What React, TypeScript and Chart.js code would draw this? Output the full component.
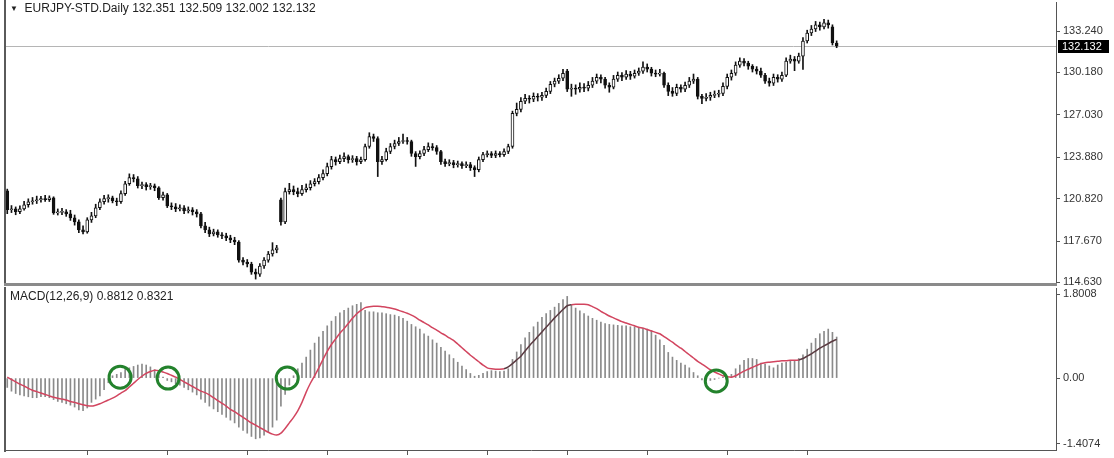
import React, { useEffect, useRef } from "react";
import { Chart, registerables } from "chart.js";

Chart.register(...registerables);

// ---------- data ----------
const OPEN = [
  121.40, 119.99, 120.06, 119.84, 120.06, 120.36, 120.58, 120.66, 120.73, 120.81,
  120.74, 120.88, 119.76, 119.80, 119.84, 119.69, 119.39, 119.09, 118.50, 118.35,
  119.24, 119.54, 120.14, 120.58, 120.81, 120.88, 120.66, 120.58, 121.18, 121.92,
  122.37, 122.29, 121.77, 121.85, 121.70, 121.77, 121.62, 120.88, 121.10, 120.28,
  120.21, 120.06, 120.14, 119.91, 119.99, 119.84, 119.69, 118.80, 118.50, 118.20,
  118.35, 118.12, 118.05, 117.90, 117.75, 117.60, 116.26, 116.11, 115.97, 115.37,
  115.22, 115.82, 116.26, 116.71, 117.01, 120.73, 119.09, 121.33, 121.48, 121.33,
  121.18, 121.48, 121.62, 121.92, 122.07, 122.37, 122.67, 123.19, 123.71, 123.56,
  123.78, 123.93, 123.71, 123.78, 123.56, 123.71, 124.68, 125.42, 125.27, 123.56,
  123.71, 124.31, 124.68, 124.90, 125.05, 125.12, 125.05, 124.16, 123.93, 124.16,
  124.45, 124.68, 124.60, 124.31, 123.56, 123.41, 123.49, 123.34, 123.41, 123.26,
  123.34, 123.11, 122.96, 123.71, 124.08, 124.16, 124.01, 124.16, 124.08, 124.31,
  124.68, 127.13, 127.43, 128.03, 128.25, 128.18, 128.40, 128.33, 128.47, 128.77,
  129.29, 129.52, 129.74, 130.26, 128.92, 129.00, 128.92, 129.07, 129.00, 129.22,
  129.52, 129.81, 129.67, 129.22, 129.07, 129.67, 129.96, 129.81, 130.04, 129.89,
  130.11, 130.26, 130.56, 130.41, 130.11, 130.04, 130.11, 129.22, 128.77, 128.62,
  129.07, 128.92, 129.22, 129.52, 129.67, 128.40, 128.25, 128.33, 128.47, 128.55,
  128.62, 129.14, 129.81, 130.11, 130.71, 131.01, 130.86, 130.63, 130.41, 130.26,
  129.96, 129.52, 129.37, 129.81, 129.67, 129.96, 131.01, 131.16, 131.01, 131.38,
  132.50, 133.09, 133.39, 133.69, 133.54, 133.84, 133.55, 132.351,
];

const HIGH = [
  121.52, 120.30, 120.20, 120.28, 120.62, 120.80, 120.90, 121.00, 120.98, 121.05,
  121.02, 120.95, 120.05, 120.10, 120.00, 119.95, 119.60, 119.25, 118.80, 119.40,
  119.80, 120.40, 120.80, 121.05, 121.10, 121.00, 120.85, 121.40, 122.10, 122.65,
  122.60, 122.45, 122.05, 122.00, 121.95, 121.90, 121.70, 121.30, 121.20, 120.50,
  120.45, 120.35, 120.30, 120.20, 120.15, 120.00, 119.80, 119.05, 118.70, 118.55,
  118.50, 118.30, 118.25, 118.10, 117.95, 117.70, 116.45, 116.30, 116.10, 115.60,
  116.00, 116.45, 116.90, 117.55, 117.35, 120.85, 121.60, 121.95, 121.75, 121.60,
  121.80, 121.90, 122.15, 122.30, 122.60, 122.95, 123.45, 123.95, 123.90, 124.05,
  124.20, 124.05, 124.00, 123.95, 123.90, 124.85, 125.70, 125.60, 125.40, 123.95,
  124.55, 124.90, 125.15, 125.35, 125.60, 125.35, 125.15, 124.30, 124.35, 124.70,
  124.95, 124.90, 124.75, 124.40, 123.75, 123.70, 123.65, 123.60, 123.55, 123.55,
  123.50, 123.25, 123.90, 124.25, 124.35, 124.30, 124.35, 124.30, 124.50, 124.85,
  127.30, 127.90, 128.30, 128.55, 128.45, 128.65, 128.60, 128.70, 129.00, 129.50,
  129.75, 130.00, 130.40, 130.40, 129.30, 129.25, 129.40, 129.35, 129.50, 129.80,
  130.05, 130.00, 129.80, 129.40, 129.95, 130.20, 130.15, 130.30, 130.25, 130.35,
  130.50, 130.95, 130.80, 130.55, 130.35, 130.40, 130.20, 129.40, 129.05, 129.30,
  129.25, 129.45, 129.80, 130.05, 129.80, 128.55, 128.60, 128.70, 128.80, 128.85,
  129.40, 130.05, 130.35, 130.95, 131.25, 131.20, 131.00, 130.75, 130.60, 130.50,
  130.10, 129.75, 130.05, 130.00, 130.20, 131.25, 131.45, 131.35, 131.60, 132.75,
  133.30, 133.65, 133.95, 133.90, 134.10, 134.05, 133.70, 132.509,
];

const LOW = [
  119.70, 119.78, 119.62, 119.70, 119.95, 120.18, 120.40, 120.45, 120.55, 120.60,
  120.60, 119.65, 119.60, 119.62, 119.50, 119.20, 118.85, 118.30, 118.20, 118.25,
  119.05, 119.40, 120.00, 120.40, 120.55, 120.50, 120.30, 120.45, 121.05, 121.80,
  122.05, 121.60, 121.55, 121.45, 121.50, 121.40, 120.75, 120.70, 120.15, 120.00,
  119.85, 119.90, 119.70, 119.75, 119.60, 119.45, 118.65, 118.30, 118.00, 118.05,
  117.95, 117.85, 117.70, 117.55, 117.40, 116.10, 115.90, 115.75, 115.20, 114.85,
  115.05, 115.65, 116.10, 116.55, 116.80, 118.85, 118.95, 121.15, 121.10, 120.95,
  121.05, 121.30, 121.45, 121.75, 121.90, 122.20, 122.50, 123.00, 123.30, 123.40,
  123.55, 123.45, 123.50, 123.30, 123.40, 123.60, 124.55, 125.05, 122.45, 123.35,
  123.60, 124.15, 124.50, 124.75, 124.90, 124.85, 123.95, 123.20, 123.75, 124.00,
  124.30, 124.40, 124.10, 123.35, 123.20, 123.25, 123.10, 123.15, 123.05, 123.10,
  122.90, 122.45, 122.80, 123.55, 123.90, 123.85, 123.85, 123.90, 123.95, 124.15,
  124.55, 126.95, 127.25, 127.85, 127.90, 128.00, 128.05, 128.10, 128.30, 128.60,
  129.10, 129.35, 129.55, 128.75, 128.40, 128.55, 128.70, 128.75, 128.80, 129.05,
  129.35, 129.40, 129.00, 128.70, 128.95, 129.50, 129.55, 129.65, 129.65, 129.75,
  129.95, 130.10, 130.20, 129.90, 129.85, 129.90, 129.05, 128.45, 128.40, 128.45,
  128.70, 128.75, 129.05, 129.35, 128.20, 127.85, 128.05, 128.10, 128.30, 128.35,
  128.45, 128.95, 129.60, 129.95, 130.55, 130.65, 130.40, 130.20, 130.05, 129.80,
  129.35, 129.15, 129.20, 129.45, 129.50, 129.85, 130.85, 130.30, 130.85, 130.40,
  132.35, 132.90, 133.20, 133.30, 133.40, 133.45, 132.20, 132.002,
];

const CLOSE = [
  119.99, 120.06, 119.84, 120.06, 120.36, 120.58, 120.66, 120.73, 120.81, 120.74,
  120.88, 119.76, 119.80, 119.84, 119.69, 119.39, 119.09, 118.50, 118.35, 119.24,
  119.54, 120.14, 120.58, 120.81, 120.88, 120.66, 120.58, 121.18, 121.92, 122.37,
  122.29, 121.77, 121.85, 121.70, 121.77, 121.62, 120.88, 121.10, 120.28, 120.21,
  120.06, 120.14, 119.91, 119.99, 119.84, 119.69, 118.80, 118.50, 118.20, 118.35,
  118.12, 118.05, 117.90, 117.75, 117.60, 116.26, 116.11, 115.97, 115.37, 115.22,
  115.82, 116.26, 116.71, 117.01, 117.16, 119.09, 121.33, 121.48, 121.33, 121.18,
  121.48, 121.62, 121.92, 122.07, 122.37, 122.67, 123.19, 123.71, 123.56, 123.78,
  123.93, 123.71, 123.78, 123.56, 123.71, 124.68, 125.42, 125.27, 123.56, 123.71,
  124.31, 124.68, 124.90, 125.05, 125.12, 125.05, 124.16, 123.93, 124.16, 124.45,
  124.68, 124.60, 124.31, 123.56, 123.41, 123.49, 123.34, 123.41, 123.26, 123.34,
  123.11, 122.96, 123.71, 124.08, 124.16, 124.01, 124.16, 124.08, 124.31, 124.68,
  127.13, 127.43, 128.03, 128.25, 128.18, 128.40, 128.33, 128.47, 128.77, 129.29,
  129.52, 129.74, 130.11, 128.92, 129.00, 128.92, 129.07, 129.00, 129.22, 129.52,
  129.81, 129.67, 129.22, 129.07, 129.67, 129.96, 129.81, 130.04, 129.89, 130.11,
  130.26, 130.56, 130.41, 130.11, 130.04, 130.11, 129.22, 128.77, 128.62, 129.07,
  128.92, 129.22, 129.52, 129.67, 128.40, 128.25, 128.33, 128.47, 128.55, 128.62,
  129.14, 129.81, 130.11, 130.71, 131.01, 130.86, 130.63, 130.41, 130.26, 129.96,
  129.52, 129.37, 129.81, 129.67, 129.96, 131.01, 131.16, 131.01, 131.38, 132.50,
  133.09, 133.39, 133.69, 133.54, 133.84, 133.69, 132.35, 132.132,
];

const MACD_HIST = [
  -0.20, -0.28, -0.33, -0.36, -0.38, -0.40, -0.42, -0.42, -0.40, -0.40,
  -0.42, -0.46, -0.50, -0.52, -0.55, -0.58, -0.62, -0.68, -0.70, -0.64,
  -0.52, -0.45, -0.38, -0.25, -0.10, 0.05, 0.08, 0.12, 0.18, 0.22,
  0.25, 0.28, 0.30, 0.28, 0.24, 0.18, 0.08, 0.02, -0.05, -0.08,
  -0.12, -0.15, -0.20, -0.25, -0.30, -0.36, -0.45, -0.52, -0.60, -0.66,
  -0.72, -0.78, -0.84, -0.90, -0.96, -1.05, -1.12, -1.18, -1.25, -1.30,
  -1.28, -1.22, -1.15, -1.05, -0.90, -0.60, -0.35, -0.15, 0.05, 0.20,
  0.32, 0.45, 0.60, 0.75, 0.88, 1.00, 1.12, 1.22, 1.32, 1.40,
  1.45, 1.50, 1.55, 1.58, 1.62, 1.45, 1.42, 1.42, 1.40, 1.40,
  1.38, 1.36, 1.35, 1.32, 1.28, 1.22, 1.15, 1.10, 1.05, 0.95,
  0.90, 0.82, 0.75, 0.66, 0.58, 0.50, 0.42, 0.34, 0.26, 0.18,
  0.10, 0.04, 0.06, 0.10, 0.14, 0.16, 0.15, 0.14, 0.15, 0.20,
  0.40, 0.56, 0.72, 0.86, 0.98, 1.10, 1.20, 1.30, 1.38, 1.45,
  1.52, 1.60, 1.68, 1.75, 1.58, 1.50, 1.44, 1.38, 1.33, 1.28,
  1.24, 1.20, 1.17, 1.15, 1.14, 1.13, 1.12, 1.12, 1.10, 1.10,
  1.08, 1.07, 1.05, 1.02, 0.92, 0.82, 0.70, 0.55, 0.45, 0.38,
  0.32, 0.28, 0.22, 0.12, 0.05, -0.04, -0.06, -0.05, -0.03, 0.00,
  0.02, 0.04, 0.08, 0.20, 0.28, 0.38, 0.42, 0.42, 0.40, 0.32,
  0.30, 0.26, 0.22, 0.28, 0.32, 0.34, 0.36, 0.38, 0.42, 0.50,
  0.62, 0.75, 0.85, 0.95, 1.00, 1.05, 0.98, 0.88,
];

const MACD_SIGNAL = [
  0.02, -0.03, -0.08, -0.13, -0.17, -0.22, -0.26, -0.29, -0.32, -0.35,
  -0.38, -0.41, -0.43, -0.45, -0.47, -0.50, -0.52, -0.55, -0.57, -0.59,
  -0.60, -0.58, -0.55, -0.51, -0.47, -0.43, -0.38, -0.32, -0.27, -0.19,
  -0.11, -0.03, 0.04, 0.10, 0.14, 0.17, 0.16, 0.13, 0.10, 0.06,
  0.02, -0.03, -0.08, -0.13, -0.18, -0.23, -0.28, -0.31, -0.36, -0.42,
  -0.48, -0.54, -0.60, -0.67, -0.72, -0.78, -0.84, -0.90, -0.96, -1.01,
  -1.06, -1.11, -1.16, -1.20, -1.22, -1.18, -1.08, -0.96, -0.84, -0.70,
  -0.52, -0.30, -0.11, 0.05, 0.22, 0.40, 0.57, 0.72, 0.84, 0.96,
  1.06, 1.17, 1.28, 1.38, 1.45, 1.51, 1.53, 1.54, 1.54, 1.53,
  1.52, 1.50, 1.48, 1.45, 1.42, 1.39, 1.35, 1.30, 1.24, 1.19,
  1.14, 1.08, 1.03, 0.97, 0.92, 0.86, 0.81, 0.73, 0.65, 0.57,
  0.49, 0.42, 0.35, 0.28, 0.22, 0.20, 0.19, 0.19, 0.20, 0.24,
  0.31, 0.39, 0.47, 0.58, 0.69, 0.79, 0.89, 0.99, 1.09, 1.19,
  1.29, 1.38, 1.47, 1.55, 1.57, 1.58, 1.58, 1.58, 1.57, 1.53,
  1.49, 1.43, 1.38, 1.33, 1.29, 1.25, 1.21, 1.18, 1.15, 1.12,
  1.09, 1.07, 1.04, 1.01, 0.98, 0.95, 0.89, 0.83, 0.77, 0.70,
  0.64, 0.57, 0.50, 0.43, 0.36, 0.30, 0.24, 0.18, 0.13, 0.09,
  0.05, 0.03, 0.02, 0.05, 0.10, 0.15, 0.19, 0.23, 0.27, 0.31,
  0.33, 0.34, 0.35, 0.36, 0.37, 0.37, 0.38, 0.38, 0.39, 0.42,
  0.47, 0.52, 0.58, 0.64, 0.69, 0.74, 0.79, 0.83,
];

// highlighted crossings (bar position, MACD value)
const CROSS_X = [26.8, 38.2, 66.5, 168.4];
const CROSS_Y = [0.02, 0.0, 0.0, -0.06];

const PRICE_TICKS = [114.63, 117.67, 120.82, 123.88, 127.03, 130.18, 133.24];
const PRICE_TICK_LABELS = ["114.630", "117.670", "120.820", "123.880", "127.030", "130.180", "133.240"];
const MACD_TICKS = [-1.4074, 0, 1.8008];
const MACD_TICK_LABELS = ["-1.4074", "0.00", "1.8008"];
const TIME_TICKS = [19, 38, 57, 76, 95, 114, 133, 152, 171, 190];

const CURRENT_PRICE = 132.132;
const CURRENT_PRICE_LABEL = "132.132";
const TITLE_TEXT = "EURJPY-STD.Daily 132.351 132.509 132.002 132.132";
const MACD_TEXT = "MACD(12,26,9) 0.8812 0.8321";

const PRICE_MIN = 114.56;
const PRICE_MAX = 135.39;
const MACD_MIN = -1.54;
const MACD_MAX = 1.93;
const X_MIN = -0.3;
const X_MAX = 249.1;

// ---------- styles ----------
const W = 1114;
const TOP_H = 287;
const BOT_H = 171;
const AXIS_W = 58;
const FONT = "'Liberation Sans', Arial, sans-serif";
const AXIS_COLOR = "#555";
const RED = "#d2455f";
const DARK_LINE = "#5b3b42";

const fitRightAxis = (s: any) => {
  s.width = AXIS_W;
  s.paddingTop = 0;
  s.paddingBottom = 0;
};

const leftBorderPlugin = {
  id: "leftBorder",
  afterDraw(chart: any) {
    const { ctx, chartArea: a } = chart;
    ctx.save();
    ctx.strokeStyle = "#5a5a5a";
    ctx.lineWidth = 2;
    ctx.beginPath();
    ctx.moveTo(a.left - 1, 0);
    ctx.lineTo(a.left - 1, a.bottom + 2);
    ctx.stroke();
    ctx.restore();
  },
};

const priceDecorPlugin = {
  id: "priceDecor",
  beforeDatasetsDraw(chart: any) {
    const { ctx, chartArea: a } = chart;
    const y = Math.round(chart.scales.y.getPixelForValue(CURRENT_PRICE)) + 0.5;
    ctx.save();
    ctx.strokeStyle = "#b5b5b5";
    ctx.lineWidth = 1;
    ctx.beginPath();
    ctx.moveTo(a.left, y);
    ctx.lineTo(a.right, y);
    ctx.stroke();
    ctx.restore();
  },
  afterDraw(chart: any) {
    const { ctx, chartArea: a } = chart;
    const y = Math.round(chart.scales.y.getPixelForValue(CURRENT_PRICE));
    ctx.save();
    // separator under the price panel
    ctx.fillStyle = "#8a8a8a";
    ctx.fillRect(a.left - 2, a.bottom, a.right - a.left + 3, 3);
    // current price box
    ctx.fillStyle = "#000";
    ctx.fillRect(a.right + 2, y - 6, 51, 13);
    ctx.fillStyle = "#fff";
    ctx.font = `11px ${FONT}`;
    ctx.textBaseline = "middle";
    ctx.textAlign = "left";
    ctx.fillText(CURRENT_PRICE_LABEL, a.right + 6, y + 1);
    ctx.restore();
  },
};

export default function App() {
  const topRef = useRef<HTMLCanvasElement | null>(null);
  const botRef = useRef<HTMLCanvasElement | null>(null);

  useEffect(() => {
    const idx = OPEN.map((_, i) => i);
    const bodies = idx.map((i) => ({ x: i, y: [OPEN[i], CLOSE[i]] }));
    const wicks = idx.map((i) => ({ x: i, y: [LOW[i], HIGH[i]] }));

    const top = new Chart(topRef.current as HTMLCanvasElement, {
      type: "bar",
      data: {
        datasets: [
          {
            label: "wick",
            data: wicks as any,
            backgroundColor: "#111",
            barThickness: 1,
            grouped: false,
            order: 2,
          } as any,
          {
            label: "body",
            data: bodies as any,
            backgroundColor: (c: any) =>
              CLOSE[c.dataIndex] >= OPEN[c.dataIndex] ? "#ffffff" : "#111111",
            borderColor: "#111",
            borderWidth: 1,
            borderSkipped: false,
            barThickness: 3,
            minBarLength: 1,
            grouped: false,
            order: 1,
          } as any,
        ],
      },
      options: {
        animation: false,
        responsive: false,
        maintainAspectRatio: false,
        devicePixelRatio: 1,
        layout: { autoPadding: false, padding: { left: 6, top: 2, right: 0, bottom: 4 } },
        plugins: { legend: { display: false }, tooltip: { enabled: false } },
        scales: {
          x: { type: "linear", min: X_MIN, max: X_MAX, offset: false, display: false },
          y: {
            position: "right",
            min: PRICE_MIN,
            max: PRICE_MAX,
            afterBuildTicks: (s: any) => {
              s.ticks = PRICE_TICKS.map((v) => ({ value: v }));
            },
            afterFit: fitRightAxis,
            ticks: {
              callback: (_v: any, i: number) => PRICE_TICK_LABELS[i],
              font: { family: FONT, size: 11 },
              color: "#333",
              padding: 3,
              autoSkip: false,
            },
            grid: { drawOnChartArea: false, tickLength: 4, color: AXIS_COLOR },
            border: { display: true, color: AXIS_COLOR, width: 1 },
          },
        },
      } as any,
      plugins: [leftBorderPlugin, priceDecorPlugin],
    });

    const hist = idx.map((i) => ({ x: i, y: MACD_HIST[i] }));
    const signal = idx.map((i) => ({ x: i, y: MACD_SIGNAL[i] }));
    const crosses = CROSS_X.map((x, k) => ({ x, y: CROSS_Y[k] }));

    const bot = new Chart(botRef.current as HTMLCanvasElement, {
      type: "bar",
      data: {
        datasets: [
          {
            type: "line",
            label: "crossings",
            data: crosses,
            showLine: false,
            pointRadius: 11,
            pointBorderWidth: 3,
            pointBorderColor: "#23822c",
            pointBackgroundColor: "rgba(0,0,0,0)",
            order: 0,
          } as any,
          {
            type: "line",
            label: "signal",
            data: signal,
            borderColor: RED,
            borderWidth: 1.5,
            pointRadius: 0,
            tension: 0.2,
            segment: {
              borderColor: (c: any) =>
                (c.p0DataIndex >= 118 && c.p0DataIndex < 134) || c.p0DataIndex >= 188
                  ? DARK_LINE
                  : RED,
            },
            order: 1,
          } as any,
          {
            type: "bar",
            label: "histogram",
            data: hist,
            backgroundColor: "#8a8a8a",
            barThickness: 1,
            grouped: false,
            order: 2,
          } as any,
        ],
      },
      options: {
        animation: false,
        responsive: false,
        maintainAspectRatio: false,
        devicePixelRatio: 1,
        layout: { autoPadding: false, padding: { left: 6, top: 1, right: 0, bottom: 2 } },
        plugins: { legend: { display: false }, tooltip: { enabled: false } },
        scales: {
          x: {
            type: "linear",
            min: X_MIN,
            max: X_MAX,
            offset: false,
            afterBuildTicks: (s: any) => {
              s.ticks = TIME_TICKS.map((v) => ({ value: v }));
            },
            afterFit: (s: any) => {
              s.height = 6;
              s.paddingLeft = 0;
              s.paddingRight = 0;
            },
            ticks: { display: false },
            grid: { offset: false, drawOnChartArea: false, tickLength: 5, color: AXIS_COLOR },
            border: { display: true, color: AXIS_COLOR, width: 1 },
          },
          y: {
            position: "right",
            min: MACD_MIN,
            max: MACD_MAX,
            afterBuildTicks: (s: any) => {
              s.ticks = MACD_TICKS.map((v) => ({ value: v }));
            },
            afterFit: fitRightAxis,
            ticks: {
              callback: (_v: any, i: number) => MACD_TICK_LABELS[i],
              font: { family: FONT, size: 11 },
              color: "#333",
              padding: 3,
              autoSkip: false,
            },
            grid: { drawOnChartArea: false, tickLength: 4, color: AXIS_COLOR },
            border: { display: true, color: AXIS_COLOR, width: 1 },
          },
        },
      } as any,
      plugins: [leftBorderPlugin],
    });

    return () => {
      top.destroy();
      bot.destroy();
    };
  }, []);

  const textStyle: React.CSSProperties = {
    position: "absolute",
    font: `12px ${FONT}`,
    color: "#222",
    whiteSpace: "pre",
    lineHeight: "13px",
    zIndex: 2,
  };

  return (
    <div
      style={{
        position: "absolute",
        left: 0,
        top: 0,
        width: W,
        height: TOP_H + BOT_H,
        background: "#fff",
        overflow: "hidden",
      }}
    >
      <canvas
        ref={topRef}
        width={W}
        height={TOP_H}
        style={{ position: "absolute", left: 0, top: 0, width: W, height: TOP_H, display: "block" }}
      />
      <canvas
        ref={botRef}
        width={W}
        height={BOT_H}
        style={{ position: "absolute", left: 0, top: TOP_H, width: W, height: BOT_H, display: "block" }}
      />
      <div style={{ ...textStyle, left: 10, top: 2 }}>
        <span style={{ fontSize: 8, verticalAlign: "1px" }}>▼</span>
        {"  " + TITLE_TEXT}
      </div>
      <div style={{ ...textStyle, left: 10, top: 290 }}>{MACD_TEXT}</div>
    </div>
  );
}
